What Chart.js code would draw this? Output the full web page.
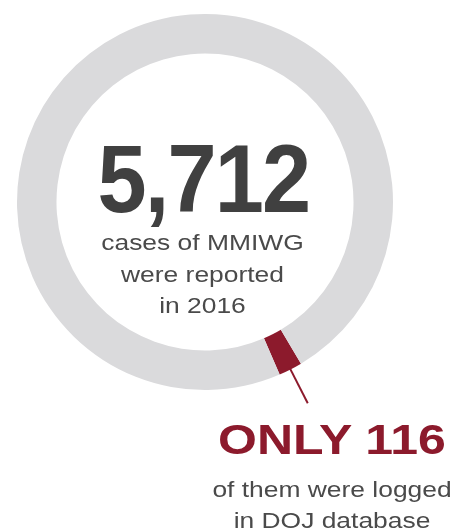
<!DOCTYPE html>
<html lang="en">
<head>
  <meta charset="UTF-8" />
  <title>MMIWG cases 2016</title>
  <script src="https://cdn.jsdelivr.net/npm/chart.js"></script>
  <style>
    body {
      margin: 0;
      background: #ffffff;
      font-family: Arial, "Liberation Sans", sans-serif;
      overflow: hidden;
    }

    .wrap {
      position: relative;
      width: 458px;
      height: 529px;
    }

    canvas {
      position: absolute;
      left: 0;
      top: 0;
    }

    .label {
      position: absolute;
      text-align: center;
      white-space: nowrap;
      transform-origin: center center;
    }

    .big-number {
      left: 0;
      width: 405px;
      top: 131px;
      font-size: 96px;
      line-height: 96px;
      font-weight: bold;
      color: #404040;
      letter-spacing: -2px;
      text-indent: 2px;
      transform: scaleX(0.92);
    }

    .center-text {
      left: 0;
      width: 405px;
      top: 227px;
      font-size: 22px;
      line-height: 31.5px;
      color: #4a4a4a;
      transform: scaleX(1.2);
    }

    .only {
      left: 132px;
      width: 400px;
      top: 419px;
      font-size: 42px;
      line-height: 42px;
      font-weight: bold;
      color: #8c1a2c;
      transform: scaleX(1.19);
    }

    .bottom-text {
      left: 132px;
      width: 400px;
      top: 474px;
      font-size: 22px;
      line-height: 31px;
      color: #4a4a4a;
      transform: scaleX(1.2);
    }
  </style>
</head>
<body>

<div class="wrap">
  <canvas id="ringChart" width="458" height="529"></canvas>
  <div class="label big-number">5,712</div>
  <div class="label center-text">cases of MMIWG<br>were reported<br>in 2016</div>
  <div class="label only">ONLY 116</div>
  <div class="label bottom-text">of them were logged<br>in DOJ database</div>
</div>

<script>
  // data
  const categories = ['Logged in DOJ database', 'Not logged'];
  const caseCounts = [116, 5596];
  const sliceColors = ['#8c1a2c', '#dadadc'];

  // short radial line pointing out of the red slice
  const leaderLine = {
    id: 'leaderLine',
    afterDatasetsDraw(chart) {
      const arc = chart.getDatasetMeta(0).data[0];
      const mid = (arc.startAngle + arc.endAngle) / 2;
      const r0 = arc.outerRadius - 2;
      const r1 = arc.outerRadius + 38;
      const ctx = chart.ctx;
      ctx.save();
      ctx.strokeStyle = '#8c1a2c';
      ctx.lineWidth = 2;
      ctx.beginPath();
      ctx.moveTo(arc.x + Math.cos(mid) * r0, arc.y + Math.sin(mid) * r0);
      ctx.lineTo(arc.x + Math.cos(mid) * r1, arc.y + Math.sin(mid) * r1);
      ctx.stroke();
      ctx.restore();
    }
  };

  new Chart(document.getElementById('ringChart'), {
    type: 'doughnut',
    data: {
      labels: categories,
      datasets: [{
        data: caseCounts,
        backgroundColor: sliceColors,
        borderWidth: 0
      }]
    },
    options: {
      responsive: false,
      animation: false,
      rotation: 149.3,
      cutout: '79%',
      layout: {
        padding: { left: 17, right: 65, top: 14, bottom: 139 }
      },
      plugins: {
        legend: { display: false },
        tooltip: { enabled: false }
      }
    },
    plugins: [leaderLine]
  });
</script>

</body>
</html>
